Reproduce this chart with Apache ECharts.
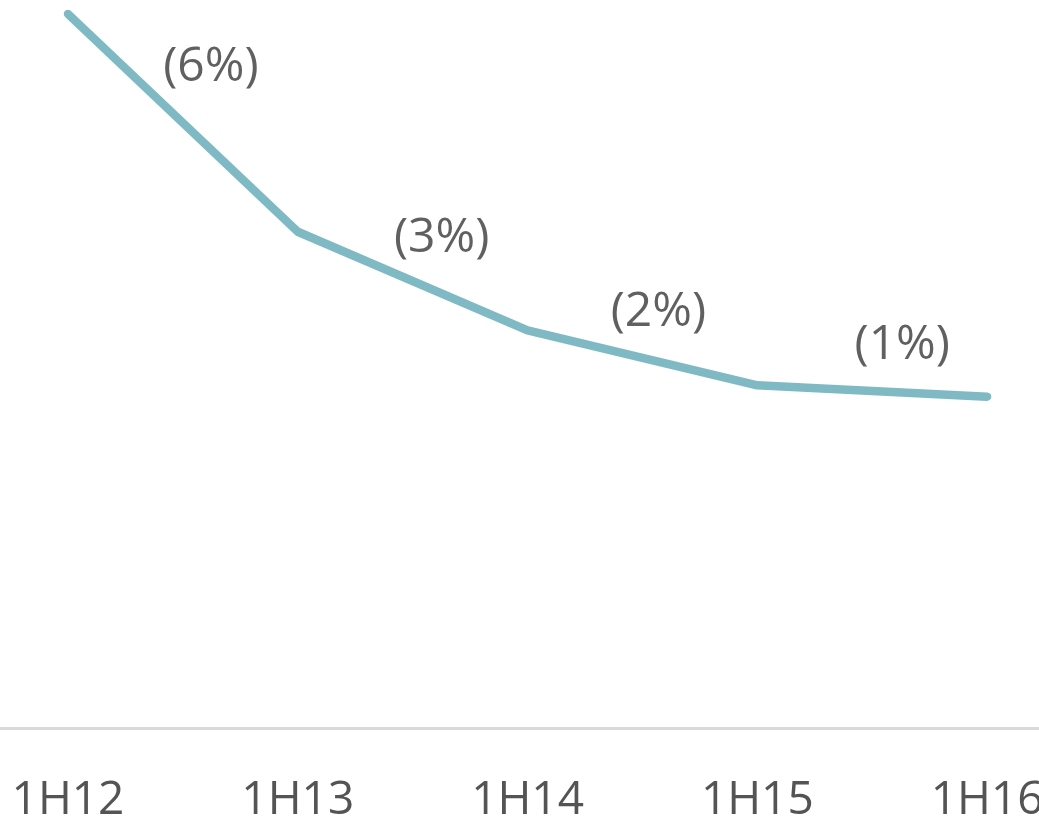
<!DOCTYPE html>
<html>
<head>
<meta charset="utf-8">
<title>1H12–1H16 trend</title>
<script src="https://cdn.jsdelivr.net/npm/echarts@6/dist/echarts.min.js"></script>
<style>
  html, body { margin: 0; padding: 0; background: #ffffff; }
  #chart { width: 1039px; height: 821px; }
</style>
</head>
<body>
<div id="chart"></div>
<script>
// Half-year periods, placed at positions 0..4 on the x axis
const periods = ['1H12', '1H13', '1H14', '1H15', '1H16'];
// Indexed level for each period (1H12 = 100)
const levels = [100, 69.5, 55.7, 48.0, 46.4];
// Period-on-period change, shown between consecutive points
const changeLabels = ['(6%)', '(3%)', '(2%)', '(1%)'];

const periodIndex = periods.map((_, i) => i);
const linePoints = levels.map((v, i) => [i, v]);

// Each change label sits at the middle of its segment, nudged up and right
const labelOffsets = [[28, -56], [29, -43], [16, -45], [30, -46]];
const changePoints = changeLabels.map((text, i) => ({
  value: [i + 0.5, (levels[i] + levels[i + 1]) / 2],
  label: { formatter: text, offset: labelOffsets[i] }
}));

const chart = echarts.init(document.getElementById('chart'), null, { renderer: 'canvas' });
const font = '"Open Sans", "Noto Sans", sans-serif';

chart.setOption({
  animation: false,
  backgroundColor: '#ffffff',
  grid: {
    left: 0, right: 0, top: 14, bottom: 93,
    containLabel: false,
    outerBoundsMode: 'none'
  },
  xAxis: {
    type: 'value',
    // axis runs a little past the first and last period on both sides
    min: -0.296,
    max: 4.226,
    axisLine: { show: true, onZero: false, lineStyle: { color: '#d9d9d9', width: 3 } },
    axisTick: { show: false },
    axisLabel: {
      customValues: periodIndex,
      formatter: (v) => periods[Math.round(v)],
      color: '#545454',
      fontSize: 46,
      fontFamily: font,
      margin: 50,
      showMinLabel: true,
      showMaxLabel: true,
      hideOverlap: false
    },
    splitLine: { show: false }
  },
  yAxis: {
    type: 'value',
    min: 0,
    max: 100,
    show: false,
    splitLine: { show: false }
  },
  series: [
    {
      type: 'line',
      data: linePoints,
      symbol: 'none',
      lineStyle: { color: '#7fbac4', width: 8.5, cap: 'round', join: 'round' },
      silent: true
    },
    {
      type: 'scatter',
      data: changePoints,
      symbolSize: 0,
      label: {
        show: true,
        position: 'inside',
        color: '#383838',
        fontSize: 48,
        fontFamily: font
      },
      silent: true
    }
  ]
});
</script>
</body>
</html>
